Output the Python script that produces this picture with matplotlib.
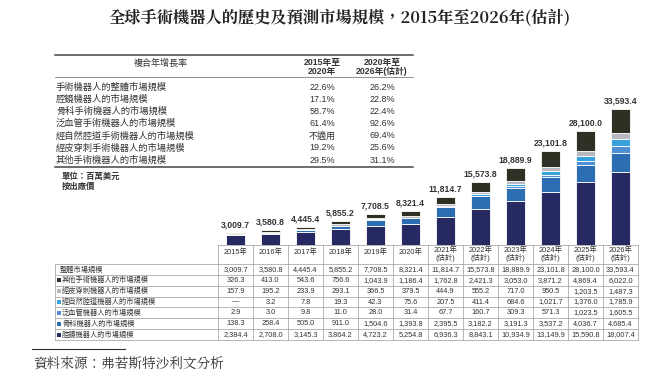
import matplotlib
matplotlib.use("Agg")
import matplotlib.pyplot as plt

# ==============================================================================
# Datos
# ==============================================================================
years = ["2015", "2016", "2017", "2018", "2019", "2020",
         "2021", "2022", "2023", "2024", "2025", "2026"]
n_hist = 6  # 2015-2020 históricos, resto estimados

total = [3009.7, 3580.8, 4445.4, 5855.2, 7708.5, 8321.4,
         11814.7, 15573.8, 18889.9, 23101.8, 28100.0, 33593.4]
lap = [2384.4, 2708.0, 3145.3, 3864.2, 4723.2, 5254.8,
       6936.3, 8843.1, 10934.9, 13149.9, 15590.8, 18007.4]
ortho = [138.3, 258.4, 505.0, 911.0, 1504.6, 1393.8,
         2395.5, 3182.2, 3191.3, 3537.2, 4036.7, 4685.4]
vasc = [2.9, 3.0, 9.8, 11.0, 28.0, 31.4,
        67.7, 160.7, 309.3, 571.3, 1023.5, 1605.5]
notes = [0.0, 3.2, 7.8, 19.3, 42.3, 75.6,
         207.5, 411.4, 684.6, 1021.7, 1376.0, 1785.9]
percut = [157.9, 195.2, 233.9, 293.1, 366.5, 379.5,
          444.9, 555.2, 717.0, 950.5, 1203.5, 1487.3]
other = [326.3, 413.0, 543.6, 756.6, 1043.9, 1186.4,
         1762.8, 2421.3, 3053.0, 3871.2, 4869.4, 6022.0]

cagr_labels = ["手術機器人的整體市場規模", "腔鏡機器人的市場規模", "骨科手術機器人的市場規模",
               "泛血管手術機器人的市場規模", "經自然腔道手術機器人的市場規模",
               "經皮穿刺手術機器人的市場規模", "其他手術機器人的市場規模"]
cagr_1520 = ["22.6%", "17.1%", "58.7%", "61.4%", "不適用", "19.2%", "29.5%"]
cagr_2026 = ["26.2%", "22.8%", "22.4%", "92.6%", "69.4%", "25.6%", "31.1%"]

# orden de apilado (de abajo hacia arriba)
stack = [lap, ortho, vasc, notes, percut, other]
colors = ["#272a62", "#2d6db2", "#4f8fd3", "#37a2dc", "#b6b9c0", "#2d3023"]

# filas de la tabla inferior (de arriba hacia abajo)
rows = [("整體市場規模", total, None),
        ("其他手術機器人的市場規模", other, colors[5]),
        ("經皮穿刺機器人的市場規模", percut, colors[4]),
        ("經自然腔道機器人的市場規模", notes, colors[3]),
        ("泛血管機器人的市場規模", vasc, colors[2]),
        ("骨科機器人的市場規模", ortho, colors[1]),
        ("腔鏡機器人的市場規模", lap, colors[0])]

FAM = ["Liberation Sans", "Noto Sans CJK TC", "DejaVu Sans"]
CJK = ["Noto Sans CJK TC", "DejaVu Sans"]
SERIF = ["Noto Serif CJK TC", "Noto Sans CJK TC", "DejaVu Sans"]

# ==============================================================================
# Figura (coordenadas en píxeles para la capa superpuesta)
# ==============================================================================
W, H = 650, 376
fig = plt.figure(figsize=(W / 100, H / 100), dpi=100)
fig.patch.set_facecolor("white")
ov = fig.add_axes([0, 0, 1, 1])
ov.set_xlim(0, W)
ov.set_ylim(H, 0)
ov.axis("off")

# titulo
ov.text(340, 18, "全球手術機器人的歷史及預測市場規模，2015年至2026年(估計)",
        ha="center", va="center", fontsize=11.7, fontweight="bold",
        family=SERIF, color="#222222")

# tabla de CAGR
ov.plot([55, 413], [55, 55], color="#444444", lw=1.1)
ov.plot([55, 413], [77, 77], color="#666666", lw=0.5)
ov.plot([55, 413], [167, 167], color="#444444", lw=1.1)
ov.text(161, 63, "複合年增長率", ha="center", va="center", fontsize=6.5, family=CJK, color="#333333")
ov.text(322, 67, "2015年至\n2020年", ha="center", va="center", fontsize=6.3,
        family=FAM, fontweight="bold", color="#333333", linespacing=1.1)
ov.text(382, 67, "2020年至\n2026年(估計)", ha="center", va="center", fontsize=6.3,
        family=FAM, fontweight="bold", color="#333333", linespacing=1.1)
for i, lab in enumerate(cagr_labels):
    y = 87 + i * 12.2
    ov.text(56, y, lab, ha="left", va="center", fontsize=6.7, family=CJK, color="#333333")
    ov.text(322, y, cagr_1520[i], ha="center", va="center", fontsize=6.5, family=FAM, color="#333333")
    ov.text(382, y, cagr_2026[i], ha="center", va="center", fontsize=6.5, family=FAM, color="#333333")

ov.text(62, 176, "單位：百萬美元", ha="left", va="center", fontsize=6, family=CJK,
        fontweight="bold", color="#333333")
ov.text(62, 186, "按出廠價", ha="left", va="center", fontsize=6, family=CJK,
        fontweight="bold", color="#333333")

# ==============================================================================
# Barras apiladas
# ==============================================================================
x0, x1 = 218, 638
base_y, top_y = 245, 95
ax = fig.add_axes([x0 / W, 1 - base_y / H, (x1 - x0) / W, (base_y - top_y) / H])
ax.set_xlim(-0.5, len(years) - 0.5)
ax.set_ylim(0, 37000)
ax.axis("off")

xs = list(range(len(years)))
bottom = [0.0] * len(years)
for vals, c in zip(stack, colors):
    ax.bar(xs, vals, bottom=bottom, width=0.52, color=c, edgecolor="white", linewidth=0.6)
    bottom = [b + v for b, v in zip(bottom, vals)]
for x, t in zip(xs, total):
    ax.text(x, t + 900, f"{t:,.1f}", ha="center", va="bottom", fontsize=6.2,
            fontweight="bold", family=FAM, color="#333333")

# ==============================================================================
# Tabla inferior
# ==============================================================================
cw = (x1 - x0) / len(years)
lc = "#9a9a9a"
hdr_top, hdr_bot, tbl_bot = 245, 264, 340
rh = (tbl_bot - hdr_bot) / len(rows)

ov.plot([x0, x1], [hdr_top, hdr_top], color=lc, lw=0.5)
for k in range(len(years) + 1):
    xx = x0 + k * cw
    ov.plot([xx, xx], [hdr_top, tbl_bot], color=lc, lw=0.5)
ov.plot([55, 55], [hdr_bot, tbl_bot], color=lc, lw=0.5)
for r in range(len(rows) + 1):
    yy = hdr_bot + r * rh
    ov.plot([55, x1], [yy, yy], color=lc, lw=0.5)

for k, yr in enumerate(years):
    cx = x0 + (k + 0.5) * cw
    if k < n_hist:
        ov.text(cx, 252, yr + "年", ha="center", va="center", fontsize=5.3, family=FAM, color="#333333")
    else:
        ov.text(cx, 254, yr + "年\n(估計)", ha="center", va="center", fontsize=5.3,
                family=FAM, color="#333333", linespacing=1.0)

for r, (lab, vals, c) in enumerate(rows):
    cy = hdr_bot + (r + 0.5) * rh
    if c is not None:
        ov.scatter([59], [cy], marker="s", s=5, color=c, linewidths=0)
        ov.text(62, cy, lab, ha="left", va="center", fontsize=5.2, family=CJK, color="#333333")
    else:
        ov.text(60, cy, lab, ha="left", va="center", fontsize=5.2, family=CJK, color="#333333")
    for k, v in enumerate(vals):
        cx = x0 + (k + 0.5) * cw
        s = "—" if (lab.startswith("經自然") and k == 0) else f"{v:,.1f}"
        ov.text(cx, cy, s, ha="center", va="center", fontsize=5.3, family=FAM, color="#333333")

# fuente
ov.plot([32, 125], [349, 349], color="#333333", lw=0.8)
ov.text(33, 364, "資料來源：弗若斯特沙利文分析", ha="left", va="center", fontsize=9.8,
        family=SERIF, color="#333333")

fig.savefig("out.png", dpi=100)
